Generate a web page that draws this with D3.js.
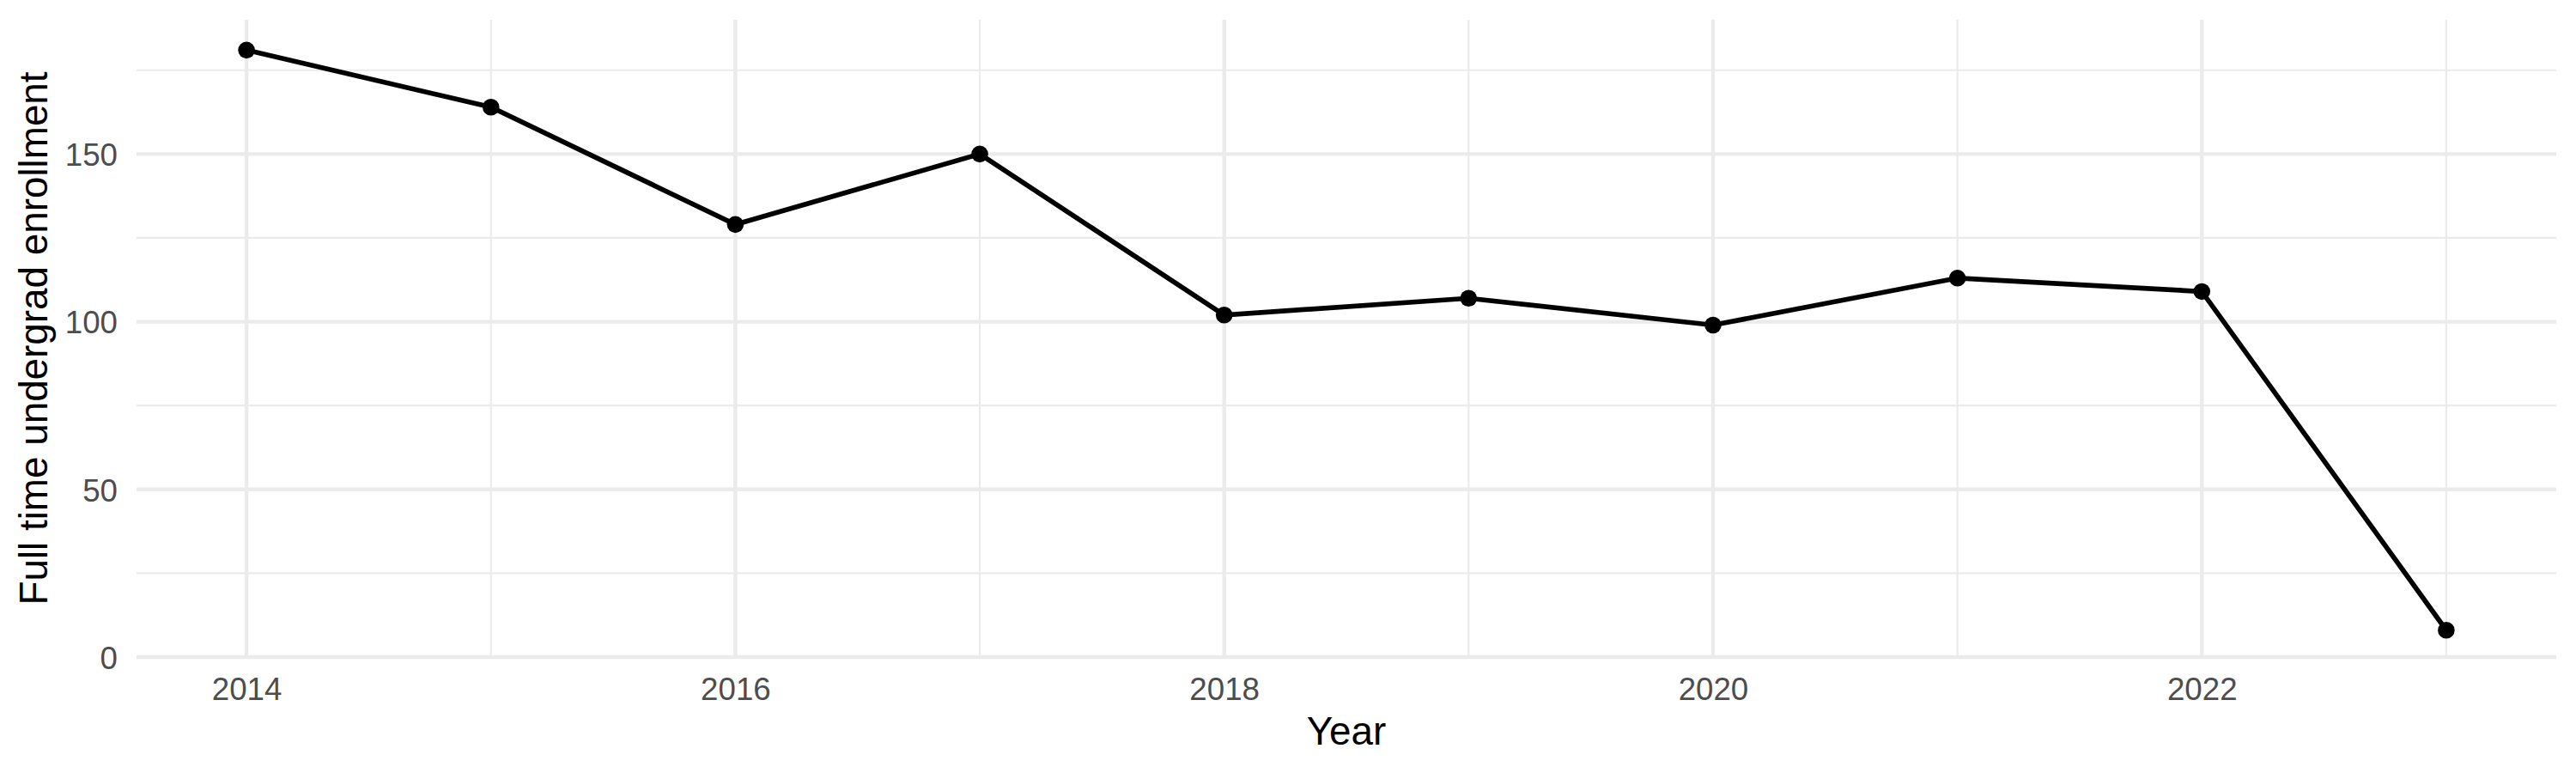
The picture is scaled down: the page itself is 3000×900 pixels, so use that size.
<!DOCTYPE html>
<meta charset="utf-8">
<script src="https://cdnjs.cloudflare.com/ajax/libs/d3/7.8.5/d3.min.js"></script>
<style>
body { margin: 0; background: #fff; }
text { font-family: "Liberation Sans", Arial, sans-serif; }
</style>
<body>
<script>
// data
var years = [2014, 2015, 2016, 2017, 2018, 2019, 2020, 2021, 2022, 2023];
var enrollment = [181, 164, 129, 150, 102, 107, 99, 113, 109, 8];

// ticks
var xBreaks = [2014, 2016, 2018, 2020, 2022];
var xMinor = [2015, 2017, 2019, 2021, 2023];
var yBreaks = [0, 50, 100, 150];
var yMinor = [25, 75, 125, 175];

// panel edges (window.top is reserved, so use p* names)
var w = 3000, h = 900;
var pLeft = 159, pRight = 2977, pTop = 23, pBottom = 765;

var svg = d3.select("body").append("svg")
  .attr("width", w)
  .attr("height", h);

var data = years.map(function(y, i) { return {year: y, value: enrollment[i]}; });

// ggplot style expansion on x, y from 0
var xSpan = d3.max(years) - d3.min(years);
var xScale = d3.scaleLinear()
  .domain([d3.min(years) - xSpan * 0.05, d3.max(years) + xSpan * 0.05])
  .range([pLeft, pRight]);

var yScale = d3.scaleLinear()
  .domain([0, d3.max(enrollment) * 1.05])
  .range([pBottom, pTop]);

// grid
var grid = svg.append("g").attr("class", "grid");

grid.selectAll(".ymin").data(yMinor).enter().append("line")
  .attr("x1", pLeft).attr("x2", pRight)
  .attr("y1", function(d) { return yScale(d); })
  .attr("y2", function(d) { return yScale(d); })
  .style("stroke", "#ebebeb").style("stroke-width", 2.2);

grid.selectAll(".xmin").data(xMinor).enter().append("line")
  .attr("y1", pTop).attr("y2", pBottom)
  .attr("x1", function(d) { return xScale(d); })
  .attr("x2", function(d) { return xScale(d); })
  .style("stroke", "#ebebeb").style("stroke-width", 2.2);

grid.selectAll(".ymaj").data(yBreaks).enter().append("line")
  .attr("x1", pLeft).attr("x2", pRight)
  .attr("y1", function(d) { return yScale(d); })
  .attr("y2", function(d) { return yScale(d); })
  .style("stroke", "#ebebeb").style("stroke-width", 4.4);

grid.selectAll(".xmaj").data(xBreaks).enter().append("line")
  .attr("y1", pTop).attr("y2", pBottom)
  .attr("x1", function(d) { return xScale(d); })
  .attr("x2", function(d) { return xScale(d); })
  .style("stroke", "#ebebeb").style("stroke-width", 4.4);

// axes (labels only)
var xAxis = d3.axisBottom(xScale).tickValues(xBreaks).tickFormat(d3.format("d"))
  .tickSize(0).tickPadding(0);
var yAxis = d3.axisLeft(yScale).tickValues(yBreaks).tickSize(0).tickPadding(0);

var gx = svg.append("g")
  .attr("transform", "translate(0," + pBottom + ")")
  .call(xAxis);
gx.select(".domain").remove();
gx.selectAll("text")
  .attr("y", 50).attr("dy", null)
  .style("font-size", "36.7px").style("fill", "#4d4d4d");

var gy = svg.append("g")
  .attr("transform", "translate(137,0)")
  .call(yAxis);
gy.select(".domain").remove();
gy.selectAll("text")
  .attr("x", 0).attr("dy", "0.36em")
  .style("font-size", "36.7px").style("fill", "#4d4d4d");

// line
var line = d3.line()
  .x(function(d) { return xScale(d.year); })
  .y(function(d) { return yScale(d.value); });

svg.append("path")
  .datum(data)
  .attr("d", line)
  .style("fill", "none")
  .style("stroke", "#000")
  .style("stroke-width", 5.7);

// points
svg.selectAll("circle").data(data).enter().append("circle")
  .attr("cx", function(d) { return xScale(d.year); })
  .attr("cy", function(d) { return yScale(d.value); })
  .attr("r", 9.8)
  .attr("fill", "#000");

// titles
svg.append("text")
  .attr("x", (pLeft + pRight) / 2)
  .attr("y", 867)
  .style("text-anchor", "middle")
  .style("font-size", "45.8px")
  .text("Year");

svg.append("text")
  .attr("transform", "translate(55," + ((pTop + pBottom) / 2) + ") rotate(-90)")
  .style("text-anchor", "middle")
  .style("font-size", "45.8px")
  .text("Full time undergrad enrollment");
</script>
</body>
</html>
